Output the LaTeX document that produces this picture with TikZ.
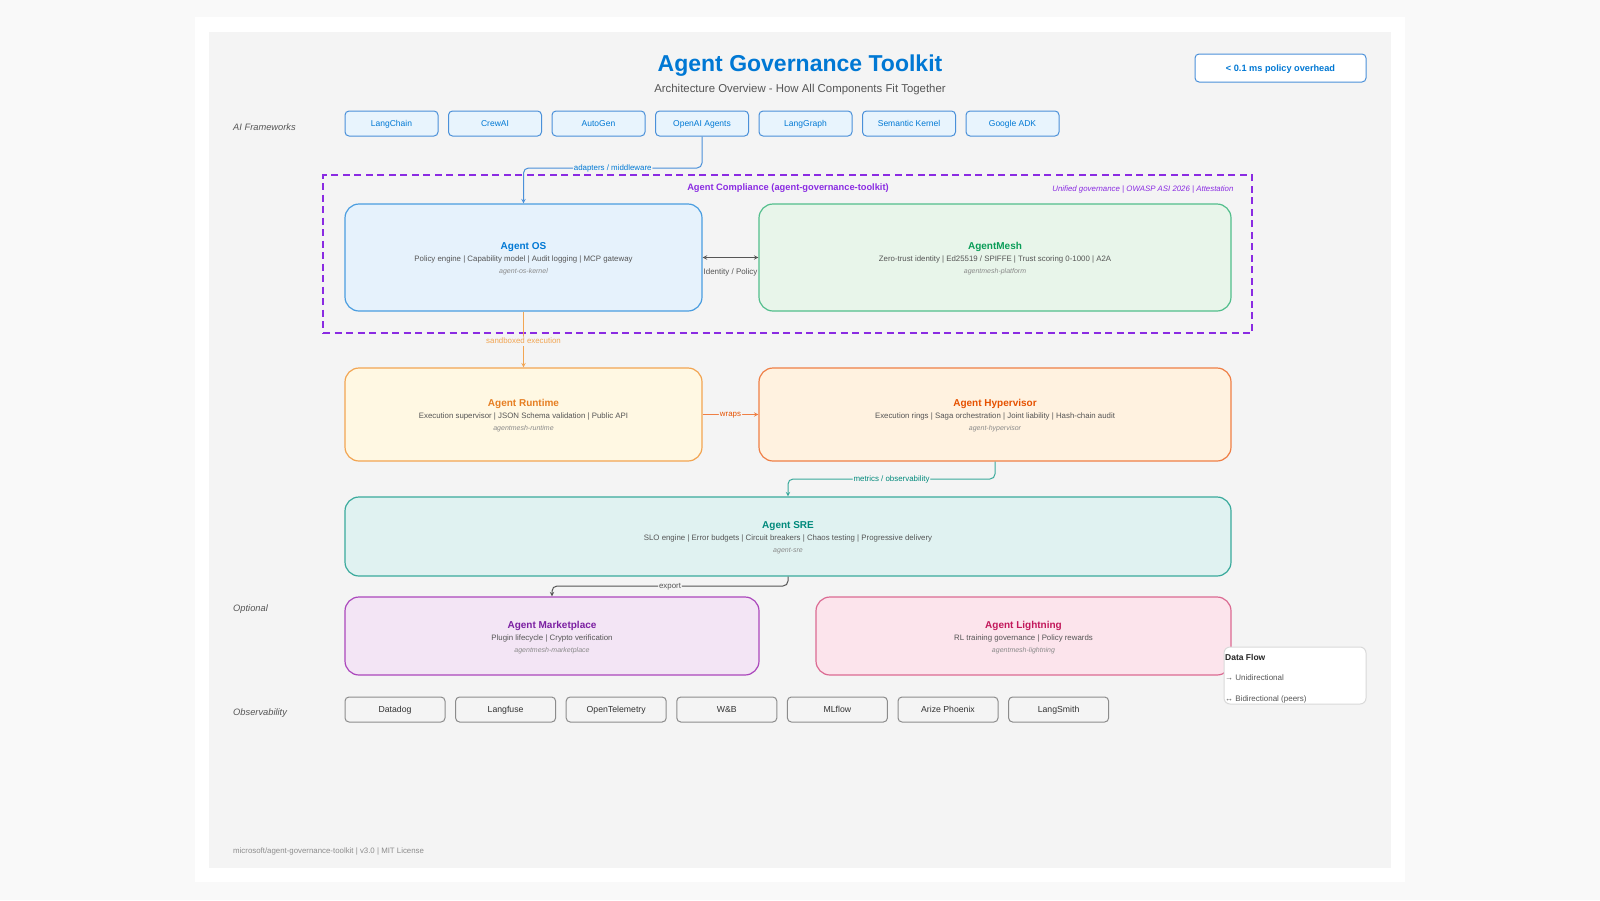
\documentclass[tikz,border=0pt]{standalone}
\usepackage{fontspec}
\setmainfont{Liberation Sans}
\usetikzlibrary{positioning}

\definecolor{pagebg}{HTML}{F9F9F9}
\definecolor{panel}{HTML}{F4F4F4}
\definecolor{msblue}{HTML}{0078D4}
\definecolor{subgray}{HTML}{555555}
\definecolor{pkggray}{HTML}{8A8A8A}
\definecolor{fwfill}{HTML}{E8F4FD}
\definecolor{fwline}{HTML}{4A90D9}
\definecolor{cmpline}{HTML}{8A2BE2}
\definecolor{osfill}{HTML}{E6F2FC}
\definecolor{osline}{HTML}{4A9DE0}
\definecolor{meshfill}{HTML}{E8F5EA}
\definecolor{meshline}{HTML}{52BE8C}
\definecolor{meshttl}{HTML}{0A9D58}
\definecolor{rtfill}{HTML}{FFF8E3}
\definecolor{rtline}{HTML}{F2A552}
\definecolor{rtttl}{HTML}{E67E22}
\definecolor{hvfill}{HTML}{FFF2E0}
\definecolor{hvline}{HTML}{EF7F45}
\definecolor{hvttl}{HTML}{E65100}
\definecolor{srefill}{HTML}{E0F2F1}
\definecolor{sreline}{HTML}{3AAA9C}
\definecolor{srettl}{HTML}{00897B}
\definecolor{mkfill}{HTML}{F3E5F5}
\definecolor{mkline}{HTML}{AB47BC}
\definecolor{mkttl}{HTML}{7B1FA2}
\definecolor{ltfill}{HTML}{FCE4EC}
\definecolor{ltline}{HTML}{DB6A92}
\definecolor{ltttl}{HTML}{C2185B}
\definecolor{obsline}{HTML}{8C8C8C}
\definecolor{darkarr}{HTML}{555555}

\newcommand{\pxfont}[1]{\fontsize{#1}{#1}\selectfont}
\newcommand{\comptext}[5]{%
  \node[comptitle, text=#2] (#1-title) at ([yshift=10.5pt]#1.center) {#3};
  \node[compdesc] (#1-desc) at ([yshift=-2pt]#1.center) {#4};
  \node[comppkg] (#1-pkg) at ([yshift=-14.5pt]#1.center) {#5};
}

\begin{document}
\begin{tikzpicture}[x=1pt, y=-1pt, >=stealth, font=\pxfont{8},
	comp/.style={rectangle, rounded corners=14pt, line width=1.2pt},
	comptitle/.style={font=\pxfont{10}\bfseries, inner sep=0pt},
	compdesc/.style={font=\pxfont{7.85}, text=subgray, inner sep=0pt},
	comppkg/.style={font=\pxfont{7}\itshape, text=pkggray, inner sep=0pt},
	fwbox/.style={rectangle, rounded corners=4pt, draw=fwline, fill=fwfill, line width=1pt, minimum width=93pt, minimum height=25pt, text height=6.6pt, text depth=0pt, text=msblue, font=\pxfont{8.5}},
	obsbox/.style={rectangle, rounded corners=4pt, draw=obsline, fill=panel, line width=1pt, minimum width=100pt, minimum height=25pt, text height=6.8pt, text depth=0pt, text=black!80, font=\pxfont{8.7}},
	sectlbl/.style={anchor=west, inner sep=0pt, font=\pxfont{9.3}\itshape, text=subgray},
	flowlbl/.style={font=\pxfont{7.9}, fill=panel, inner sep=1pt, text height=5.7pt, text depth=1.6pt},
	flow/.style={line width=1pt, rounded corners=5pt}]
		% background
		\fill[pagebg] (0,0) rectangle (1600,900);
		\fill[white] (195,17) rectangle (1405,882);
		\fill[panel] (209,32) rectangle (1391,868);
		% header
		\node[font=\pxfont{23}\bfseries, text=msblue] (title) at (800,66) {Agent Governance Toolkit};
		\node[font=\pxfont{11.4}, text=subgray] (subtitle) at (800,90) {Architecture Overview - How All Components Fit Together};
		\node[rectangle, rounded corners=4pt, draw=fwline, fill=white, line width=1pt, minimum width=171pt, minimum height=28pt, text height=6.8pt, text depth=0pt, text=msblue, font=\pxfont{9.2}\bfseries] (overhead) at (1280.5,68) {< 0.1 ms policy overhead};
		% frameworks
		\node[sectlbl] (lbl-fw) at (233,127) {AI Frameworks};
		\foreach \name [count=\i] in {LangChain, CrewAI, AutoGen, OpenAI Agents, LangGraph, Semantic Kernel, Google ADK}
			\node[fwbox] (fw\i) at ({391.5+103.5*(\i-1)},123.5) {\name};
		% compliance boundary
		\node[rectangle, draw=cmpline, line width=1.8pt, dash pattern=on 7pt off 4.5pt, minimum width=929pt, minimum height=158pt] (compliance) at (787.5,254) {};
		\node[font=\pxfont{9.3}\bfseries, text=cmpline] (cmp-title) at (788,188) {Agent Compliance (agent-governance-toolkit)};
		\node[anchor=east, font=\pxfont{7.85}\itshape, text=cmpline] (cmp-note) at (1237,190) {Unified governance | OWASP ASI 2026 | Attestation};
		% components
		\node[comp, draw=osline, fill=osfill, minimum width=357pt, minimum height=107pt] (aos) at (523.5,257.5) {};
		\comptext{aos}{msblue}{Agent OS}{Policy engine | Capability model | Audit logging | MCP gateway}{agent-os-kernel}
		\node[comp, draw=meshline, fill=meshfill, minimum width=472pt, minimum height=107pt] (mesh) at (995,257.5) {};
		\comptext{mesh}{meshttl}{AgentMesh}{Zero-trust identity | Ed25519 / SPIFFE | Trust scoring 0-1000 | A2A}{agentmesh-platform}
		\node[comp, draw=rtline, fill=rtfill, minimum width=357pt, minimum height=93pt] (runtime) at (523.5,414.5) {};
		\comptext{runtime}{rtttl}{Agent Runtime}{Execution supervisor | JSON Schema validation | Public API}{agentmesh-runtime}
		\node[comp, draw=hvline, fill=hvfill, minimum width=472pt, minimum height=93pt] (hyper) at (995,414.5) {};
		\comptext{hyper}{hvttl}{Agent Hypervisor}{Execution rings | Saga orchestration | Joint liability | Hash-chain audit}{agent-hypervisor}
		\node[comp, draw=sreline, fill=srefill, minimum width=886pt, minimum height=79pt] (sre) at (788,536.5) {};
		\comptext{sre}{srettl}{Agent SRE}{SLO engine | Error budgets | Circuit breakers | Chaos testing | Progressive delivery}{agent-sre}
		\node[sectlbl] (lbl-opt) at (233,609) {Optional};
		\node[comp, draw=mkline, fill=mkfill, minimum width=414pt, minimum height=78pt] (market) at (552,636) {};
		\comptext{market}{mkttl}{Agent Marketplace}{Plugin lifecycle | Crypto verification}{agentmesh-marketplace}
		\node[comp, draw=ltline, fill=ltfill, minimum width=415pt, minimum height=78pt] (light) at (1023.5,636) {};
		\comptext{light}{ltttl}{Agent Lightning}{RL training governance | Policy rewards}{agentmesh-lightning}
		% connectors
		\draw[flow, fwline, ->] (fw4.south) -- (fw4.south |- 0,168) -| node[flowlbl, pos=0.25, text=msblue] (lbl-adapt) {adapters / middleware} (aos.north);
		\draw[flow, darkarr, <->] (aos.east) -- node[below=10pt, font=\pxfont{8}, text=subgray, inner sep=1pt] (lbl-id) {Identity / Policy} (mesh.west);
		\draw[flow, rtline, ->] (aos.south) -- node[flowlbl, pos=0.53, text=rtline] (lbl-sand) {sandboxed execution} (runtime.north);
		\draw[flow, hvline, ->] (runtime.east) -- node[flowlbl, text=hvttl] (lbl-wrap) {wraps} (hyper.west);
		\draw[flow, sreline, ->] (hyper.south) -- (hyper.south |- 0,479) -| node[flowlbl, pos=0.25, text=srettl] (lbl-metric) {metrics / observability} (sre.north);
		\draw[flow, darkarr, ->] (sre.south) -- (sre.south |- 0,586) -| node[flowlbl, pos=0.25, text=subgray] (lbl-export) {export} (market.north);
		% legend
		\node[rectangle, rounded corners=6pt, draw=black!15, fill=white, line width=1pt, minimum width=142pt, minimum height=57pt] (legend) at (1295,675.5) {};
		\node[anchor=west, inner sep=0pt, font=\pxfont{8.5}\bfseries, text=black!85] (lg-title) at (1225,657) {Data Flow};
		\node[anchor=west, inner sep=0pt, font=\pxfont{8}, text=subgray] (lg-uni) at (1225,678) {→ Unidirectional};
		\node[anchor=west, inner sep=0pt, font=\pxfont{8}, text=subgray] (lg-bi) at (1225,699) {↔ Bidirectional (peers)};
		% observability
		\node[sectlbl] (lbl-obs) at (233,713) {Observability};
		\foreach \name [count=\i] in {Datadog, Langfuse, OpenTelemetry, W\&B, MLflow, Arize Phoenix, LangSmith}
			\node[obsbox] (obs\i) at ({395+110.6*(\i-1)},709.5) {\name};
		% footer
		\node[anchor=west, inner sep=0pt, font=\pxfont{7.85}, text=black!45] (footer) at (233,851) {microsoft/agent-governance-toolkit | v3.0 | MIT License};
	\end{tikzpicture}
\end{document}
